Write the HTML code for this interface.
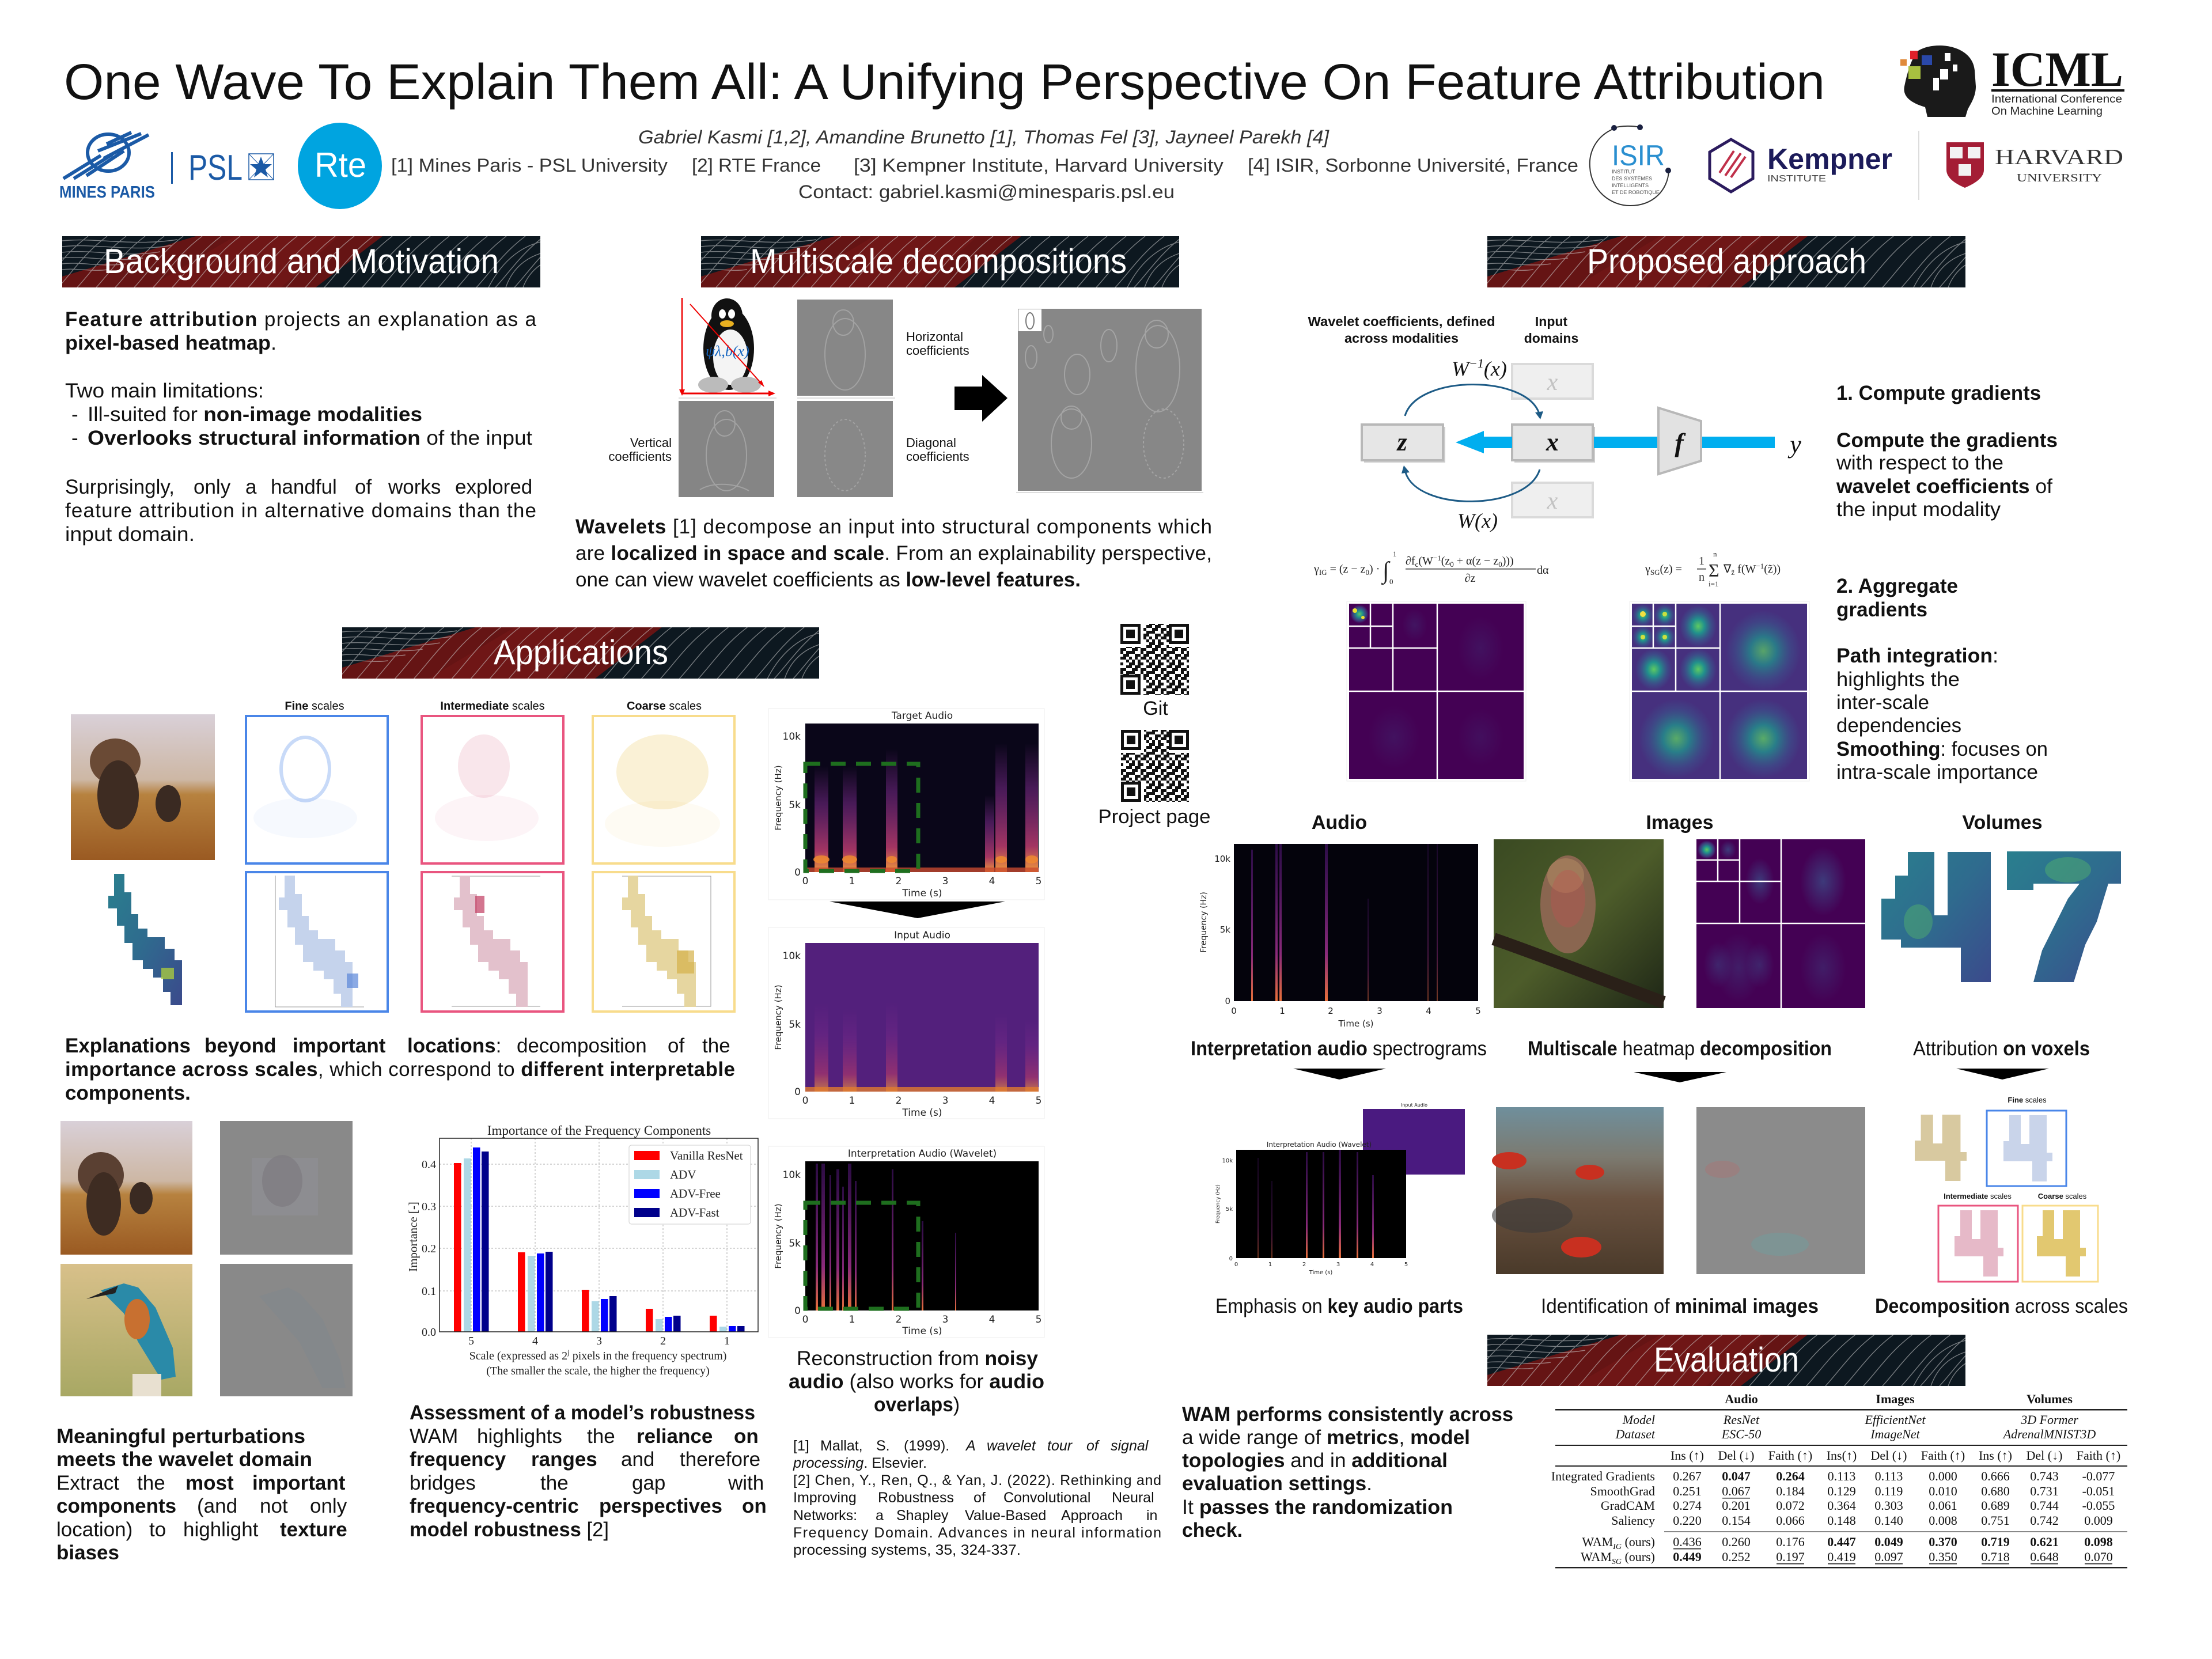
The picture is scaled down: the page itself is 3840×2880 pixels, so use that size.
<!DOCTYPE html>
<html><head><meta charset="utf-8">
<style>
html,body{margin:0;padding:0;background:#fff;}
svg{display:block}
.t{font-family:"Liberation Sans","DejaVu Sans",sans-serif;fill:#111}
.b{font-weight:bold}
.i{font-style:italic}
.h{font-family:"Liberation Sans","DejaVu Sans",sans-serif;font-size:60px;fill:#fff}
.tk{font-family:"DejaVu Sans",sans-serif;fill:#222}
.tb{font-family:"Liberation Serif",serif;font-size:22px;fill:#111}
</style></head><body>
<svg width="3840" height="2880" viewBox="0 0 3840 2880" xmlns="http://www.w3.org/2000/svg" xmlns:xlink="http://www.w3.org/1999/xlink" font-size="35">
<defs>
<symbol id="hdr" viewBox="0 0 830 89" preserveAspectRatio="none">
<rect width="830" height="89" fill="#0d1820"/>
<polygon points="232,0 556,0 440,89 0,89 0,70" fill="#651414"/>
<polygon points="300,0 480,0 380,89 150,89" fill="#7a1818" opacity="0.5"/>
<path d="M-40,89C-15,62 5,30 45,0M-7,89C18,62 38,30 78,0M26,89C51,62 71,30 111,0M59,89C84,62 104,30 144,0M92,89C117,62 137,30 177,0M125,89C150,62 170,30 210,0M158,89C183,62 203,30 243,0M191,89C216,62 236,30 276,0M224,89C249,62 269,30 309,0M257,89C282,62 302,30 342,0M290,89C315,62 335,30 375,0M323,89C348,62 368,30 408,0M356,89C381,62 401,30 441,0M389,89C414,62 434,30 474,0M422,89C447,62 467,30 507,0M455,89C480,62 500,30 540,0M488,89C513,62 533,30 573,0M521,89C546,62 566,30 606,0M554,89C579,62 599,30 639,0M587,89C612,62 632,30 672,0M620,89C645,62 665,30 705,0M653,89C678,62 698,30 738,0M686,89C711,62 731,30 771,0M719,89C744,62 764,30 804,0M752,89C777,62 797,30 837,0M785,89C810,62 830,30 870,0M0,8C60,2 120,18 200,6M0,18C60,12 120,28 190,16M0,28C50,22 110,38 170,27M0,38C40,33 90,46 140,38M0,48C30,44 70,54 110,48M0,58C25,55 50,62 80,58M830,10C790,20 760,50 740,89M830,30C800,40 780,60 770,89M830,50C815,60 805,75 800,89" fill="none" stroke="#cfcfcf" stroke-opacity="0.55" stroke-width="1.4"/>
</symbol>
<linearGradient id="burst" x1="0" y1="0" x2="0" y2="1">
<stop offset="0" stop-color="#7a2a8a" stop-opacity="0"/>
<stop offset="0.35" stop-color="#7a2a8a" stop-opacity="0.55"/>
<stop offset="0.8" stop-color="#b43a6a" stop-opacity="0.9"/>
<stop offset="1" stop-color="#f29a3a"/>
</linearGradient>
<linearGradient id="line" x1="0" y1="0" x2="0" y2="1">
<stop offset="0" stop-color="#4a1470" stop-opacity="0.6"/>
<stop offset="0.7" stop-color="#8a2a7a"/>
<stop offset="1" stop-color="#e8703a"/>
</linearGradient>
<radialGradient id="rg" cx="0.5" cy="0.5" r="0.5">
<stop offset="0" stop-color="#5ec962"/>
<stop offset="0.35" stop-color="#21918c"/>
<stop offset="0.75" stop-color="#3b528b" stop-opacity="0.7"/>
<stop offset="1" stop-color="#3b528b" stop-opacity="0"/>
</radialGradient>
<radialGradient id="rgf" cx="0.5" cy="0.5" r="0.5">
<stop offset="0" stop-color="#3b528b" stop-opacity="0.7"/>
<stop offset="1" stop-color="#3b528b" stop-opacity="0"/>
</radialGradient>
<linearGradient id="vox" x1="0" y1="0" x2="1" y2="1">
<stop offset="0" stop-color="#2a7f8e"/>
<stop offset="0.5" stop-color="#2f6b8e"/>
<stop offset="1" stop-color="#3b4a8c"/>
</linearGradient>
<linearGradient id="elep" x1="0" y1="0" x2="0" y2="1">
<stop offset="0" stop-color="#d9d0d8"/>
<stop offset="0.45" stop-color="#cdb7a4"/>
<stop offset="0.55" stop-color="#b7823f"/>
<stop offset="1" stop-color="#9a5a22"/>
</linearGradient>
<linearGradient id="king" x1="0" y1="0" x2="0" y2="1">
<stop offset="0" stop-color="#d8c08a"/>
<stop offset="1" stop-color="#a8a864"/>
</linearGradient>
<linearGradient id="owl" x1="0" y1="0" x2="1" y2="1">
<stop offset="0" stop-color="#3a4a22"/>
<stop offset="0.5" stop-color="#4d5c2a"/>
<stop offset="1" stop-color="#1e2616"/>
</linearGradient>
<linearGradient id="crab" x1="0" y1="0" x2="0" y2="1">
<stop offset="0" stop-color="#6f8f9c"/>
<stop offset="0.3" stop-color="#7c7a70"/>
<stop offset="0.55" stop-color="#6a5240"/>
<stop offset="1" stop-color="#4a3a2a"/>
</linearGradient>
<pattern id="qr" width="35" height="35" patternUnits="userSpaceOnUse">
<rect width="35" height="35" fill="#fff"/>
<g fill="#111">
<rect x="0" y="0" width="5" height="5"/><rect x="10" y="0" width="10" height="5"/><rect x="30" y="0" width="5" height="5"/>
<rect x="5" y="5" width="10" height="5"/><rect x="20" y="5" width="10" height="5"/>
<rect x="0" y="10" width="10" height="5"/><rect x="20" y="10" width="5" height="5"/><rect x="30" y="10" width="5" height="5"/>
<rect x="10" y="15" width="10" height="5"/><rect x="25" y="15" width="10" height="5"/>
<rect x="0" y="20" width="5" height="5"/><rect x="10" y="20" width="5" height="5"/><rect x="20" y="20" width="10" height="5"/>
<rect x="5" y="25" width="5" height="5"/><rect x="15" y="25" width="5" height="5"/><rect x="30" y="25" width="5" height="5"/>
<rect x="0" y="30" width="10" height="5"/><rect x="15" y="30" width="10" height="5"/>
</g>
</pattern>
<symbol id="fnd" viewBox="0 0 40 40"><rect width="40" height="40" fill="#fff"/><rect width="35" height="35" fill="#111"/><rect x="5" y="5" width="25" height="25" fill="#fff"/><rect x="10" y="10" width="15" height="15" fill="#111"/></symbol>
<symbol id="stair" viewBox="0 0 150 228" preserveAspectRatio="none">
<polygon points="10,0 28,0 28,32 40,32 40,70 52,70 52,95 68,95 68,110 98,110 98,130 115,130 115,150 128,150 128,228 108,228 108,205 95,205 95,180 78,180 78,165 60,165 60,150 42,150 42,120 28,120 28,90 15,90 15,60 0,60 0,38 10,38"/>
</symbol>
<symbol id="four" viewBox="0 0 85 115" preserveAspectRatio="none">
<polygon points="10,0 30,0 30,50 45,50 45,0 75,0 75,65 85,65 85,80 75,80 75,115 50,115 50,80 0,80 0,45 10,45"/>
</symbol>
</defs>

<rect width="3840" height="2880" fill="#fff"/>

<!-- TITLE -->
<text class="t" x="111" y="172" style="font-size:87px" textLength="3057" lengthAdjust="spacingAndGlyphs">One Wave To Explain Them All: A Unifying Perspective On Feature Attribution</text>

<!-- ICML logo -->
<path d="M3330,88 C3360,70 3424,78 3428,122 L3430,150 C3430,168 3421,180 3416,190 L3412,203 L3346,203 L3342,186 C3322,180 3302,170 3306,150 C3310,130 3318,100 3330,88 Z" fill="#1a1a1a"/>
<rect x="3376" y="92" width="10" height="14" fill="#fff"/><rect x="3390" y="112" width="8" height="12" fill="#fff"/><rect x="3368" y="120" width="14" height="18" fill="#fff"/><rect x="3356" y="135" width="10" height="22" fill="#fff"/>
<rect x="3316" y="88" width="13" height="15" fill="#e0202a"/>
<rect x="3336" y="96" width="18" height="17" fill="#2a48a8"/>
<rect x="3299" y="103" width="11" height="11" fill="#e08a3a"/>
<rect x="3313" y="115" width="21" height="22" fill="#a8c040"/>
<text x="3457" y="149" font-family="Liberation Serif,serif" font-weight="bold" font-size="86" fill="#111" textLength="229" lengthAdjust="spacingAndGlyphs">ICML</text>
<rect x="3457" y="155" width="231" height="4" fill="#111"/>
<text x="3457" y="178" font-family="Liberation Sans,sans-serif" font-size="19" fill="#222" textLength="227" lengthAdjust="spacingAndGlyphs">International Conference</text>
<text x="3457" y="199" font-family="Liberation Sans,sans-serif" font-size="19" fill="#222" textLength="193" lengthAdjust="spacingAndGlyphs">On Machine Learning</text>

<!-- Left logos -->
<g fill="none" stroke="#1b5aa6" stroke-width="6">
<ellipse cx="188" cy="265" rx="36" ry="32"/>
<path d="M110,310 L175,270 M128,310 L195,268 M150,305 L215,262 M170,262 L245,232 M180,275 L258,234 M185,250 L228,230"/>
</g>
<text x="103" y="343" font-family="Liberation Sans,sans-serif" font-weight="bold" font-size="29" fill="#1b5aa6" textLength="166" lengthAdjust="spacingAndGlyphs">MINES PARIS</text>
<rect x="297" y="264" width="3" height="55" fill="#1b5aa6"/>
<text x="327" y="312" font-family="Liberation Sans,sans-serif" font-size="62" fill="#1b5aa6" textLength="94" lengthAdjust="spacingAndGlyphs">PSL</text>
<rect x="432" y="267" width="43" height="45" fill="none" stroke="#1b5aa6" stroke-width="1.5"/>
<path d="M432,267L475,312M475,267L432,312" stroke="#1b5aa6" stroke-width="1"/>
<polygon points="453,272 458,285 472,285 461,294 465,308 453,299 441,308 445,294 434,285 448,285" fill="#1b5aa6"/>
<ellipse cx="590" cy="288" rx="73" ry="75" fill="#00a4e0"/>
<text x="591" y="307" text-anchor="middle" font-family="Liberation Sans,sans-serif" font-size="60" fill="#fff" textLength="90" lengthAdjust="spacingAndGlyphs">Rte</text>

<!-- Authors -->
<text class="t i" x="1108" y="249" style="font-size:32px;fill:#333" textLength="1199" lengthAdjust="spacingAndGlyphs">Gabriel Kasmi [1,2], Amandine Brunetto [1], Thomas Fel [3], Jayneel Parekh [4]</text>
<g class="t" style="font-size:32px;fill:#333">
<text x="679" y="298" textLength="480" lengthAdjust="spacingAndGlyphs">[1] Mines Paris - PSL University</text>
<text x="1201" y="298" textLength="224" lengthAdjust="spacingAndGlyphs">[2] RTE France</text>
<text x="1482" y="298" textLength="642" lengthAdjust="spacingAndGlyphs">[3] Kempner Institute, Harvard University</text>
<text x="2166" y="298" textLength="574" lengthAdjust="spacingAndGlyphs">[4] ISIR, Sorbonne Université, France</text>
<text x="1386" y="344" textLength="653" lengthAdjust="spacingAndGlyphs">Contact: gabriel.kasmi@minesparis.psl.eu</text>
</g>

<!-- Right logos -->
<path d="M2805,222 C2770,235 2758,265 2760,290 C2762,330 2795,357 2830,357 C2870,357 2895,330 2897,297" fill="none" stroke="#333" stroke-width="2"/>
<path d="M2802,222 C2815,218 2835,218 2847,221" fill="none" stroke="#333" stroke-width="2"/>
<circle cx="2802" cy="222" r="5" fill="#1a2040"/><circle cx="2847" cy="221" r="5" fill="#1a2040"/><circle cx="2896" cy="296" r="5" fill="#1a2040"/>
<text x="2798" y="287" font-family="Liberation Sans,sans-serif" font-size="50" fill="#2a8fd0" textLength="92" lengthAdjust="spacingAndGlyphs">ISIR</text>
<g font-family="Liberation Sans,sans-serif" font-size="9" fill="#444"><text x="2798" y="301">INSTITUT</text><text x="2798" y="313">DES SYSTÈMES</text><text x="2798" y="325">INTELLIGENTS</text><text x="2798" y="337">ET DE ROBOTIQUE</text></g>
<polygon points="3005,242 3043,264 3043,310 3005,333 2968,310 2968,264" fill="none" stroke="#2b1b5e" stroke-width="5"/>
<path d="M2985,300 L3010,262 M2995,305 L3022,266 M3005,308 L3030,272" stroke="#c0304a" stroke-width="4"/>
<text x="3068" y="293" font-family="Liberation Sans,sans-serif" font-weight="bold" font-size="50" fill="#1c1b5a" textLength="217" lengthAdjust="spacingAndGlyphs">Kempner</text>
<text x="3068" y="315" font-family="Liberation Sans,sans-serif" font-size="16" fill="#444" textLength="102" lengthAdjust="spacingAndGlyphs">INSTITUTE</text>
<rect x="3330" y="227" width="2" height="120" fill="#ddd"/>
<path d="M3379,247 L3444,247 L3444,295 C3444,310 3425,320 3411,326 C3397,320 3379,310 3379,295 Z" fill="#a41d35"/>
<rect x="3385" y="255" width="22" height="20" fill="#f2f2f2"/><rect x="3416" y="255" width="22" height="20" fill="#f2f2f2"/><rect x="3400" y="285" width="22" height="20" fill="#f2f2f2"/>
<text x="3463" y="285" font-family="Liberation Serif,serif" font-size="38" fill="#333" textLength="223" lengthAdjust="spacingAndGlyphs">HARVARD</text>
<text x="3501" y="315" font-family="Liberation Serif,serif" font-size="20" fill="#333" textLength="148" lengthAdjust="spacingAndGlyphs">UNIVERSITY</text>

<!-- Section headers -->
<use xlink:href="#hdr" href="#hdr" x="108" y="410" width="830" height="89"/>
<text class="h" x="180" y="474" textLength="686" lengthAdjust="spacingAndGlyphs">Background and Motivation</text>
<use xlink:href="#hdr" href="#hdr" x="1217" y="410" width="830" height="89"/>
<text class="h" x="1302" y="474" textLength="654" lengthAdjust="spacingAndGlyphs">Multiscale decompositions</text>
<use xlink:href="#hdr" href="#hdr" x="2582" y="410" width="830" height="89"/>
<text class="h" x="2755" y="474" textLength="485" lengthAdjust="spacingAndGlyphs">Proposed approach</text>
<use xlink:href="#hdr" href="#hdr" x="594" y="1089" width="828" height="89"/>
<text class="h" x="857" y="1153" textLength="303" lengthAdjust="spacingAndGlyphs">Applications</text>
<use xlink:href="#hdr" href="#hdr" x="2582" y="2317" width="830" height="89"/>
<text class="h" x="2871" y="2381" textLength="252" lengthAdjust="spacingAndGlyphs">Evaluation</text>

<!-- Background text -->
<text class="t" x="113" y="566" textLength="818" lengthAdjust="spacing"><tspan class="b">Feature attribution</tspan> projects an explanation as a</text>
<text class="t" x="113" y="607" textLength="367" lengthAdjust="spacingAndGlyphs"><tspan class="b">pixel-based heatmap</tspan>.</text>
<text class="t" x="113" y="690" textLength="345" lengthAdjust="spacingAndGlyphs">Two main limitations:</text>
<text class="t" x="124" y="731">-</text>
<text class="t" x="152" y="731" textLength="581" lengthAdjust="spacingAndGlyphs">Ill-suited for <tspan class="b">non-image modalities</tspan></text>
<text class="t" x="124" y="772">-</text>
<text class="t" x="152" y="772" textLength="772" lengthAdjust="spacingAndGlyphs"><tspan class="b">Overlooks structural information</tspan> of the input</text>
<text class="t" y="857"><tspan x="113">Surprisingly,</tspan><tspan x="336">only</tspan><tspan x="426">a</tspan><tspan x="470">handful</tspan><tspan x="616">of</tspan><tspan x="674">works</tspan><tspan x="790">explored</tspan></text>
<text class="t" x="113" y="898" textLength="818" lengthAdjust="spacing">feature attribution in alternative domains than the</text>
<text class="t" x="113" y="939" textLength="225" lengthAdjust="spacingAndGlyphs">input domain.</text>

<!-- Multiscale figure -->
<rect x="1182" y="517" width="165" height="170" fill="#fff"/>
<ellipse cx="1265" cy="605" rx="44" ry="72" fill="#111"/>
<ellipse cx="1262" cy="548" rx="27" ry="30" fill="#111"/>
<ellipse cx="1268" cy="620" rx="30" ry="48" fill="#f4f4f4"/>
<ellipse cx="1254" cy="545" rx="6" ry="8" fill="#fff"/><ellipse cx="1270" cy="545" rx="6" ry="8" fill="#fff"/>
<ellipse cx="1262" cy="562" rx="12" ry="6" fill="#e8b020"/>
<ellipse cx="1238" cy="668" rx="26" ry="14" fill="#bbb"/><ellipse cx="1295" cy="668" rx="26" ry="14" fill="#bbb"/>
<text x="1225" y="618" font-family="Liberation Serif,serif" font-style="italic" font-size="26" fill="#1565c0">ψλ,b(x)</text>
<path d="M1184,517 L1184,680" stroke="#e00" stroke-width="2.5"/><polygon points="1179,676 1189,676 1184,687" fill="#e00"/>
<path d="M1184,683 L1338,683" stroke="#e00" stroke-width="3"/><polygon points="1334,678 1346,683 1334,688" fill="#e00"/>
<path d="M1198,528 L1322,666" stroke="#e00" stroke-width="2"/><polygon points="1316,664 1327,672 1322,660" fill="#e00"/>
<rect x="1178" y="690" width="170" height="2" fill="#ddd"/><rect x="1384" y="690" width="170" height="2" fill="#ddd"/>
<rect x="1384" y="520" width="166" height="167" fill="#878787"/>
<rect x="1178" y="696" width="166" height="167" fill="#858585"/>
<rect x="1384" y="696" width="166" height="167" fill="#888"/>
<g fill="none" stroke="#a2a2a2" stroke-width="2">
<ellipse cx="1467" cy="615" rx="35" ry="62"/><ellipse cx="1464" cy="560" rx="18" ry="22"/>
<ellipse cx="1261" cy="790" rx="35" ry="62"/><ellipse cx="1258" cy="735" rx="18" ry="22"/><path d="M1215,850 C1240,835 1280,840 1300,852"/>
<ellipse cx="1467" cy="790" rx="35" ry="62" stroke-dasharray="4 4"/>
</g>
<g font-family="Liberation Sans,sans-serif" font-size="22" fill="#111">
<text x="1573" y="592">Horizontal</text><text x="1573" y="616">coefficients</text>
<text x="1166" y="776" text-anchor="end">Vertical</text><text x="1166" y="800" text-anchor="end">coefficients</text>
<text x="1573" y="776">Diagonal</text><text x="1573" y="800">coefficients</text>
</g>
<polygon points="1657,671 1705,671 1705,651 1749,691 1705,732 1705,712 1657,712" fill="#000"/>
<rect x="1767" y="536" width="319" height="316" fill="#878787"/>
<rect x="1764" y="854" width="325" height="2" fill="#ddd"/>
<rect x="1768" y="537" width="40" height="38" fill="#fff"/>
<ellipse cx="1788" cy="557" rx="7" ry="14" fill="none" stroke="#777" stroke-width="2"/>
<g fill="none" stroke="#a4a4a4" stroke-width="2">
<ellipse cx="2010" cy="640" rx="38" ry="75"/><ellipse cx="2008" cy="580" rx="20" ry="24"/>
<ellipse cx="1870" cy="650" rx="22" ry="35"/><ellipse cx="1925" cy="600" rx="14" ry="28"/>
<ellipse cx="1860" cy="770" rx="35" ry="60"/><ellipse cx="1860" cy="725" rx="18" ry="20"/>
<ellipse cx="2020" cy="770" rx="35" ry="60" stroke-dasharray="4 4"/>
<ellipse cx="1790" cy="620" rx="10" ry="20"/><ellipse cx="1820" cy="580" rx="8" ry="15"/>
</g>

<!-- Wavelets text -->
<text class="t" x="999" y="926" textLength="1105" lengthAdjust="spacing"><tspan class="b">Wavelets</tspan> [1] decompose an input into structural components which</text>
<text class="t" x="999" y="972" textLength="1105" lengthAdjust="spacing">are <tspan class="b">localized in space and scale</tspan>. From an explainability perspective,</text>
<text class="t" x="999" y="1018" textLength="877" lengthAdjust="spacingAndGlyphs">one can view wavelet coefficients as <tspan class="b">low-level features.</tspan></text>

<!-- Proposed approach diagram -->
<g font-family="Liberation Sans,sans-serif" font-weight="bold" font-size="23" fill="#111" text-anchor="middle">
<text x="2433" y="566" textLength="325" lengthAdjust="spacingAndGlyphs">Wavelet coefficients, defined</text>
<text x="2433" y="595" textLength="198" lengthAdjust="spacingAndGlyphs">across modalities</text>
<text x="2693" y="566">Input</text>
<text x="2693" y="595">domains</text>
</g>
<rect x="2625" y="632" width="140" height="60" fill="#efefef" stroke="#dadada" stroke-width="4"/>
<rect x="2625" y="838" width="140" height="60" fill="#efefef" stroke="#dadada" stroke-width="4"/>
<text x="2695" y="677" text-anchor="middle" font-family="Liberation Serif,serif" font-style="italic" font-size="42" fill="#c2c2c2">x</text>
<text x="2695" y="883" text-anchor="middle" font-family="Liberation Serif,serif" font-style="italic" font-size="42" fill="#c2c2c2">x</text>
<rect x="2368" y="741" width="141" height="62" fill="#ccc"/>
<rect x="2364" y="737" width="141" height="62" fill="#e6e6e6" stroke="#b8b8b8" stroke-width="4"/>
<rect x="2629" y="741" width="140" height="62" fill="#ccc"/>
<rect x="2625" y="737" width="140" height="62" fill="#e6e6e6" stroke="#b8b8b8" stroke-width="4"/>
<text x="2434" y="782" text-anchor="middle" font-family="Liberation Serif,serif" font-style="italic" font-weight="bold" font-size="44" fill="#111">z</text>
<text x="2695" y="782" text-anchor="middle" font-family="Liberation Serif,serif" font-style="italic" font-weight="bold" font-size="44" fill="#111">x</text>
<polygon points="2527,768 2576,748 2576,758 2625,758 2625,778 2576,778 2576,787" fill="#00aeef"/>
<rect x="2767" y="758" width="112" height="20" fill="#00aeef"/>
<rect x="2953" y="758" width="128" height="20" fill="#00aeef"/>
<polygon points="2879,708 2953,731 2953,800 2879,823" fill="#e2e2e2" stroke="#b8b8b8" stroke-width="4"/>
<text x="2915" y="784" text-anchor="middle" font-family="Liberation Serif,serif" font-style="italic" font-weight="bold" font-size="46" fill="#111">f</text>
<text x="3117" y="786" text-anchor="middle" font-family="Liberation Serif,serif" font-style="italic" font-size="44" fill="#111">y</text>
<path d="M2439,722 C2460,650 2650,650 2672,718" fill="none" stroke="#1d5b86" stroke-width="3"/>
<polygon points="2665,716 2679,714 2674,728" fill="#1d5b86"/>
<path d="M2673,815 C2650,888 2460,888 2440,820" fill="none" stroke="#1d5b86" stroke-width="3"/>
<polygon points="2433,822 2447,820 2437,808" fill="#1d5b86"/>
<text x="2520" y="652" font-family="Liberation Serif,serif" font-style="italic" font-size="36" fill="#111">W<tspan font-size="22" dy="-14">−1</tspan><tspan dy="14">(x)</tspan></text>
<text x="2530" y="916" font-family="Liberation Serif,serif" font-style="italic" font-size="36" fill="#111">W(x)</text>

<!-- formulas -->
<g font-family="Liberation Serif,serif" font-size="20" fill="#222">
<text x="2281" y="994">γ<tspan font-size="13" dy="4">IG</tspan><tspan dy="-4"> = (z − z</tspan><tspan font-size="13" dy="4">0</tspan><tspan dy="-4">) ·</tspan></text>
<text x="2400" y="1004" font-size="42">∫</text>
<text x="2418" y="966" font-size="13">1</text><text x="2412" y="1014" font-size="13">0</text>
<text x="2440" y="980">∂f<tspan font-size="13" dy="4">c</tspan><tspan dy="-4">(W</tspan><tspan font-size="13" dy="-7">−1</tspan><tspan dy="7">(z</tspan><tspan font-size="13" dy="4">0</tspan><tspan dy="-4"> + α(z − z</tspan><tspan font-size="13" dy="4">0</tspan><tspan dy="-4">)))</tspan></text>
<rect x="2440" y="987" width="226" height="1.5" fill="#222"/>
<text x="2552" y="1010" text-anchor="middle">∂z</text>
<text x="2668" y="996">dα</text>
<text x="2856" y="994">γ<tspan font-size="13" dy="4">SG</tspan><tspan dy="-4">(z) =</tspan></text>
<text x="2954" y="980" text-anchor="middle">1</text><rect x="2946" y="987" width="16" height="1.5" fill="#222"/><text x="2954" y="1008" text-anchor="middle">n</text>
<text x="2966" y="1001" font-size="32">Σ</text><text x="2974" y="966" font-size="13">n</text><text x="2966" y="1018" font-size="13">i=1</text>
<text x="2992" y="994">∇<tspan font-size="13" dy="4">z̃</tspan><tspan dy="-4"> f(W</tspan><tspan font-size="13" dy="-7">−1</tspan><tspan dy="7">(z̃))</tspan></text>
</g>

<!-- heatmaps proposed -->
<rect x="2338" y="1044" width="311" height="312" fill="none" stroke="#eee" stroke-width="1"/>
<rect x="2342" y="1048" width="303" height="304" fill="#440154"/>
<ellipse cx="2360" cy="1066" rx="16" ry="16" fill="url(#rg)"/>
<circle cx="2352" cy="1060" r="4" fill="#e8e030"/><circle cx="2366" cy="1072" r="3" fill="#e8e030"/>
<ellipse cx="2570" cy="1125" rx="40" ry="55" fill="url(#rgf)" opacity="0.3"/>
<ellipse cx="2420" cy="1280" rx="45" ry="55" fill="url(#rgf)" opacity="0.3"/>
<ellipse cx="2570" cy="1280" rx="40" ry="50" fill="url(#rgf)" opacity="0.25"/>
<ellipse cx="2456" cy="1085" rx="22" ry="28" fill="url(#rgf)" opacity="0.35"/>
<g stroke="#fff" stroke-width="2.5">
<path d="M2495,1048V1352M2342,1200H2645M2418,1048V1200M2342,1125H2495M2379,1048V1125M2342,1087H2418"/>
</g>
<rect x="2829" y="1044" width="312" height="312" fill="none" stroke="#eee" stroke-width="1"/>
<rect x="2833" y="1048" width="304" height="304" fill="#46307e"/>
<g>
<ellipse cx="2852" cy="1068" rx="18" ry="19" fill="url(#rg)"/><ellipse cx="2890" cy="1068" rx="18" ry="19" fill="url(#rg)"/>
<ellipse cx="2852" cy="1106" rx="18" ry="19" fill="url(#rg)"/><ellipse cx="2890" cy="1106" rx="18" ry="19" fill="url(#rg)"/>
<ellipse cx="2948" cy="1087" rx="32" ry="36" fill="url(#rg)"/>
<ellipse cx="2871" cy="1162" rx="32" ry="36" fill="url(#rg)"/><ellipse cx="2948" cy="1162" rx="32" ry="36" fill="url(#rg)"/>
<ellipse cx="3061" cy="1130" rx="65" ry="70" fill="url(#rg)" opacity="0.75"/>
<ellipse cx="2910" cy="1282" rx="65" ry="68" fill="url(#rg)" opacity="0.8"/>
<ellipse cx="3061" cy="1282" rx="65" ry="68" fill="url(#rg)" opacity="0.8"/>
<circle cx="2852" cy="1066" r="5" fill="#f0e040"/><circle cx="2890" cy="1066" r="4" fill="#c8e040"/><circle cx="2852" cy="1106" r="4" fill="#d0e040"/><circle cx="2890" cy="1106" r="4" fill="#c8e040"/>
</g>
<g stroke="#fff" stroke-width="2.5">
<path d="M2986,1048V1352M2833,1200H3137M2909,1048V1200M2833,1125H2986M2870,1048V1125M2833,1087H2909"/>
</g>

<!-- proposed right text -->
<text class="t b" x="3188" y="694" textLength="355" lengthAdjust="spacingAndGlyphs">1. Compute gradients</text>
<text class="t b" x="3188" y="776" textLength="384" lengthAdjust="spacingAndGlyphs">Compute the gradients</text>
<text class="t" x="3188" y="815" textLength="290" lengthAdjust="spacingAndGlyphs">with respect to the</text>
<text class="t" x="3188" y="856" textLength="375" lengthAdjust="spacingAndGlyphs"><tspan class="b">wavelet coefficients</tspan> of</text>
<text class="t" x="3188" y="896" textLength="285" lengthAdjust="spacingAndGlyphs">the input modality</text>
<text class="t b" x="3188" y="1029" textLength="211" lengthAdjust="spacingAndGlyphs">2. Aggregate</text>
<text class="t b" x="3188" y="1070" textLength="158" lengthAdjust="spacingAndGlyphs">gradients</text>
<text class="t" x="3188" y="1150" textLength="281" lengthAdjust="spacingAndGlyphs"><tspan class="b">Path integration</tspan>:</text>
<text class="t" x="3188" y="1191" textLength="214" lengthAdjust="spacingAndGlyphs">highlights the</text>
<text class="t" x="3188" y="1231" textLength="161" lengthAdjust="spacingAndGlyphs">inter-scale</text>
<text class="t" x="3188" y="1271" textLength="217" lengthAdjust="spacingAndGlyphs">dependencies</text>
<text class="t" x="3188" y="1312" textLength="367" lengthAdjust="spacingAndGlyphs"><tspan class="b">Smoothing</tspan>: focuses on</text>
<text class="t" x="3188" y="1352" textLength="350" lengthAdjust="spacingAndGlyphs">intra-scale importance</text>

<!-- Applications left -->
<rect x="123" y="1240" width="250" height="253" fill="url(#elep)"/>
<ellipse cx="200" cy="1322" rx="44" ry="40" fill="#6a4a35"/>
<ellipse cx="205" cy="1380" rx="36" ry="60" fill="#3e2c22"/>
<ellipse cx="292" cy="1395" rx="22" ry="32" fill="#3a2a22"/>
<g font-family="Liberation Sans,sans-serif" font-size="20" fill="#111" text-anchor="middle">
<text x="546" y="1232"><tspan font-weight="bold">Fine</tspan> scales</text>
<text x="855" y="1232"><tspan font-weight="bold">Intermediate</tspan> scales</text>
<text x="1153" y="1232"><tspan font-weight="bold">Coarse</tspan> scales</text>
</g>
<rect x="427" y="1243" width="246" height="256" fill="#fff" stroke="#4a86e8" stroke-width="4"/>
<rect x="732" y="1243" width="246" height="256" fill="#fff" stroke="#e9557f" stroke-width="4"/>
<rect x="1029" y="1243" width="246" height="256" fill="#fff" stroke="#f8dc8c" stroke-width="4"/>
<ellipse cx="530" cy="1335" rx="42" ry="55" fill="none" stroke="#4a86e8" stroke-opacity="0.3" stroke-width="6"/>
<ellipse cx="530" cy="1420" rx="90" ry="35" fill="#4a86e8" opacity="0.05"/>
<ellipse cx="840" cy="1330" rx="45" ry="55" fill="#d0305a" opacity="0.12"/>
<ellipse cx="845" cy="1420" rx="90" ry="40" fill="#d0305a" opacity="0.05"/>
<ellipse cx="1150" cy="1340" rx="80" ry="65" fill="#e8b830" opacity="0.2"/>
<ellipse cx="1150" cy="1430" rx="100" ry="40" fill="#e8b830" opacity="0.06"/>
<rect x="427" y="1514" width="246" height="242" fill="#fff" stroke="#4a86e8" stroke-width="4"/>
<rect x="732" y="1514" width="246" height="242" fill="#fff" stroke="#e9557f" stroke-width="4"/>
<rect x="1029" y="1514" width="246" height="242" fill="#fff" stroke="#f8dc8c" stroke-width="4"/>
<path d="M478,1520V1748H632M784,1521H938M784,1747H938M1080,1521H1234V1747H1080" fill="none" stroke="#999" stroke-width="1"/>
<use xlink:href="#stair" href="#stair" x="188" y="1517" width="150" height="228" fill="url(#vox)"/>
<rect x="280" y="1680" width="22" height="20" fill="#a8c840" opacity="0.8"/>
<use xlink:href="#stair" href="#stair" x="484" y="1520" width="150" height="228" fill="#c5d3ec"/>
<rect x="602" y="1690" width="20" height="25" fill="#5a86d8" opacity="0.7"/>
<use xlink:href="#stair" href="#stair" x="788" y="1520" width="150" height="228" fill="#e3c1cc"/>
<rect x="825" y="1555" width="16" height="30" fill="#c03a60" opacity="0.7"/>
<use xlink:href="#stair" href="#stair" x="1080" y="1520" width="150" height="228" fill="#e6d6a0"/>
<rect x="1175" y="1650" width="30" height="40" fill="#d4b048" opacity="0.7"/>
<text class="t" y="1827"><tspan x="113" class="b">Explanations</tspan><tspan x="355" class="b">beyond</tspan><tspan x="508" class="b">important</tspan><tspan x="707" class="b">locations</tspan>:<tspan x="897">decomposition</tspan><tspan x="1159">of</tspan><tspan x="1219">the</tspan></text>
<text class="t" x="113" y="1868" textLength="1163" lengthAdjust="spacing"><tspan class="b">importance across scales</tspan>, which correspond to <tspan class="b">different interpretable</tspan></text>
<text class="t b" x="113" y="1909">components.</text>

<!-- QR codes -->
<rect x="1945" y="1083" width="119" height="123" fill="url(#qr)"/>
<use xlink:href="#fnd" href="#fnd" x="1945" y="1083" width="40" height="40"/>
<use xlink:href="#fnd" href="#fnd" x="2029" y="1083" width="40" height="40"/>
<use xlink:href="#fnd" href="#fnd" x="1945" y="1171" width="40" height="40"/>
<rect x="2029" y="1206" width="40" height="6" fill="#fff"/>
<text class="t" x="2006" y="1241" text-anchor="middle" style="font-size:34px">Git</text>
<rect x="1946" y="1267" width="118" height="125" fill="url(#qr)"/>
<use xlink:href="#fnd" href="#fnd" x="1946" y="1267" width="40" height="40"/>
<use xlink:href="#fnd" href="#fnd" x="2029" y="1267" width="40" height="40"/>
<use xlink:href="#fnd" href="#fnd" x="1946" y="1357" width="40" height="40"/>
<rect x="1946" y="1392" width="125" height="8" fill="#fff"/>
<text class="t" x="2004" y="1429" text-anchor="middle" style="font-size:34px" textLength="195" lengthAdjust="spacingAndGlyphs">Project page</text>

<!-- Middle audio panels -->
<rect x="1334" y="1230" width="479" height="332" fill="none" stroke="#eee"/>
<rect x="1334" y="1610" width="479" height="332" fill="none" stroke="#eee"/>
<rect x="1334" y="1990" width="479" height="332" fill="none" stroke="#eee"/>
<!-- target -->
<rect x="1398" y="1256" width="405" height="258" fill="#0a0619"/>
<g fill="url(#burst)">
<rect x="1414" y="1330" width="24" height="184"/><rect x="1463" y="1330" width="24" height="184"/><rect x="1538" y="1300" width="20" height="214"/>
<rect x="1710" y="1380" width="16" height="134"/><rect x="1728" y="1290" width="20" height="224"/><rect x="1780" y="1290" width="22" height="224"/>
</g>
<g fill="#f08a30" opacity="0.85"><ellipse cx="1426" cy="1492" rx="14" ry="7"/><ellipse cx="1475" cy="1492" rx="13" ry="7"/><ellipse cx="1548" cy="1492" rx="9" ry="6"/><ellipse cx="1738" cy="1492" rx="10" ry="6"/><ellipse cx="1791" cy="1492" rx="11" ry="7"/></g>
<rect x="1398" y="1506" width="405" height="8" fill="#c84a30" opacity="0.8"/>
<rect x="1398" y="1326" width="196" height="186" fill="none" stroke="#1e6e1e" stroke-width="7" stroke-dasharray="26 18"/>
<polygon points="1440,1565 1745,1565 1593,1594" fill="#000"/>
<!-- input -->
<rect x="1398" y="1637" width="405" height="258" fill="#53207c"/>
<g fill="url(#burst)" opacity="0.7">
<rect x="1414" y="1740" width="24" height="155"/><rect x="1463" y="1750" width="24" height="145"/><rect x="1538" y="1740" width="20" height="155"/>
<rect x="1728" y="1760" width="20" height="135"/><rect x="1780" y="1770" width="22" height="125"/>
</g>
<rect x="1398" y="1887" width="405" height="8" fill="#e07a30" opacity="0.8"/>
<!-- interp -->
<rect x="1398" y="2016" width="405" height="259" fill="#000"/>
<g fill="url(#line)">
<rect x="1416" y="2020" width="4" height="255"/><rect x="1426" y="2020" width="6" height="255"/><rect x="1440" y="2040" width="3" height="235"/><rect x="1452" y="2030" width="5" height="245"/><rect x="1462" y="2060" width="3" height="215"/><rect x="1472" y="2020" width="6" height="255"/><rect x="1484" y="2050" width="3" height="225"/>
<rect x="1548" y="2030" width="3" height="245"/><rect x="1600" y="2120" width="3" height="155"/><rect x="1658" y="2140" width="2" height="135"/>
</g>
<rect x="1398" y="2088" width="196" height="184" fill="none" stroke="#1e6e1e" stroke-width="7" stroke-dasharray="26 18"/>
<g class="tk" font-size="17">
<text x="1601" y="1248" text-anchor="middle">Target Audio</text>
<text x="1601" y="1629" text-anchor="middle">Input Audio</text>
<text x="1601" y="2008" text-anchor="middle">Interpretation Audio (Wavelet)</text>
<g text-anchor="end">
<text x="1390" y="1284">10k</text><text x="1390" y="1403">5k</text><text x="1390" y="1520">0</text>
<text x="1390" y="1665">10k</text><text x="1390" y="1784">5k</text><text x="1390" y="1901">0</text>
<text x="1390" y="2045">10k</text><text x="1390" y="2164">5k</text><text x="1390" y="2281">0</text>
</g>
<g text-anchor="middle">
<text x="1398" y="1535">0</text><text x="1479" y="1535">1</text><text x="1560" y="1535">2</text><text x="1641" y="1535">3</text><text x="1722" y="1535">4</text><text x="1803" y="1535">5</text>
<text x="1398" y="1916">0</text><text x="1479" y="1916">1</text><text x="1560" y="1916">2</text><text x="1641" y="1916">3</text><text x="1722" y="1916">4</text><text x="1803" y="1916">5</text>
<text x="1398" y="2296">0</text><text x="1479" y="2296">1</text><text x="1560" y="2296">2</text><text x="1641" y="2296">3</text><text x="1722" y="2296">4</text><text x="1803" y="2296">5</text>
<text x="1601" y="1556">Time (s)</text><text x="1601" y="1937">Time (s)</text><text x="1601" y="2316">Time (s)</text>
</g>
<text transform="translate(1356,1385) rotate(-90)" text-anchor="middle" font-size="15">Frequency (Hz)</text>
<text transform="translate(1356,1766) rotate(-90)" text-anchor="middle" font-size="15">Frequency (Hz)</text>
<text transform="translate(1356,2146) rotate(-90)" text-anchor="middle" font-size="15">Frequency (Hz)</text>
</g>
<text class="t" x="1383" y="2370" textLength="419" lengthAdjust="spacingAndGlyphs">Reconstruction from <tspan class="b">noisy</tspan></text>
<text class="t" x="1369" y="2410" textLength="444" lengthAdjust="spacingAndGlyphs"><tspan class="b">audio</tspan>  (also works for <tspan class="b">audio</tspan></text>
<text class="t" x="1517" y="2450" textLength="149" lengthAdjust="spacingAndGlyphs"><tspan class="b">overlaps</tspan>)</text>

<!-- Applications right -->
<g class="t b" text-anchor="middle" style="font-size:34px">
<text x="2325" y="1439">Audio</text><text x="2916" y="1439">Images</text><text x="3476" y="1439">Volumes</text>
</g>
<rect x="2142" y="1465" width="424" height="273" fill="#04030c"/>
<g fill="url(#line)">
<rect x="2172" y="1475" width="3" height="263"/><rect x="2214" y="1465" width="4" height="273"/><rect x="2221" y="1465" width="4" height="273"/><rect x="2300" y="1465" width="5" height="273"/><rect x="2374" y="1560" width="2" height="178" opacity="0.5"/><rect x="2478" y="1465" width="2" height="273" opacity="0.5"/><rect x="2494" y="1465" width="2" height="273" opacity="0.5"/>
</g>
<g class="tk" font-size="15">
<g text-anchor="end"><text x="2136" y="1496">10k</text><text x="2136" y="1619">5k</text><text x="2136" y="1743">0</text></g>
<g text-anchor="middle"><text x="2142" y="1760">0</text><text x="2226" y="1760">1</text><text x="2310" y="1760">2</text><text x="2395" y="1760">3</text><text x="2480" y="1760">4</text><text x="2566" y="1760">5</text><text x="2354" y="1782">Time (s)</text></g>
<text transform="translate(2094,1601) rotate(-90)" text-anchor="middle" font-size="14">Frequency (Hz)</text>
</g>
<rect x="2593" y="1457" width="295" height="293" fill="url(#owl)"/>
<path d="M2593,1630 C2680,1660 2780,1700 2888,1740" stroke="#2a2018" stroke-width="22" fill="none"/>
<ellipse cx="2722" cy="1570" rx="48" ry="85" fill="#8a6650"/>
<ellipse cx="2718" cy="1520" rx="32" ry="30" fill="#a07a5a"/>
<ellipse cx="2722" cy="1560" rx="30" ry="50" fill="#c05050" opacity="0.35"/>
<rect x="2945" y="1457" width="293" height="293" fill="#440154"/>
<ellipse cx="2963" cy="1475" rx="16" ry="16" fill="url(#rg)"/>
<ellipse cx="3000" cy="1475" rx="14" ry="16" fill="url(#rgf)"/>
<ellipse cx="3055" cy="1530" rx="25" ry="40" fill="url(#rgf)"/>
<ellipse cx="3165" cy="1530" rx="40" ry="60" fill="url(#rgf)"/>
<ellipse cx="2982" cy="1675" rx="25" ry="40" fill="url(#rgf)" opacity="0.6"/>
<ellipse cx="3055" cy="1675" rx="25" ry="40" fill="url(#rgf)" opacity="0.6"/>
<ellipse cx="3018" cy="1680" rx="40" ry="60" fill="url(#rgf)" opacity="0.5"/>
<ellipse cx="3165" cy="1680" rx="40" ry="60" fill="url(#rgf)" opacity="0.5"/>
<g stroke="#fff" stroke-width="2.5"><path d="M3092,1457V1750M2945,1603H3238M3020,1457V1603M2945,1530H3092M2982,1457V1530M2945,1493H3020"/></g>
<polygon points="3312,1479 3358,1479 3358,1589 3381,1589 3381,1479 3456,1479 3456,1705 3404,1705 3404,1645 3300,1645 3300,1631 3266,1631 3266,1560 3290,1560 3290,1520 3312,1520" fill="url(#vox)"/>
<polygon points="3484,1478 3682,1478 3682,1534 3660,1534 3640,1600 3620,1640 3600,1705 3530,1705 3545,1650 3570,1600 3590,1560 3610,1534 3530,1534 3530,1545 3484,1545" fill="url(#vox)"/>
<ellipse cx="3330" cy="1600" rx="25" ry="30" fill="#5ec962" opacity="0.35"/>
<ellipse cx="3590" cy="1510" rx="40" ry="22" fill="#5ec962" opacity="0.35"/>
<text class="t" x="2067" y="1832" textLength="514" lengthAdjust="spacingAndGlyphs"><tspan class="b">Interpretation audio</tspan> spectrograms</text>
<text class="t" x="2652" y="1832" textLength="528" lengthAdjust="spacingAndGlyphs"><tspan class="b">Multiscale</tspan> heatmap <tspan class="b">decomposition</tspan></text>
<text class="t" x="3321" y="1832" textLength="307" lengthAdjust="spacingAndGlyphs">Attribution <tspan class="b">on voxels</tspan></text>
<polygon points="2245,1855 2406,1855 2325,1874" fill="#000"/>
<polygon points="2836,1861 2997,1861 2916,1879" fill="#000"/>
<polygon points="3396,1855 3557,1855 3476,1874" fill="#000"/>
<!-- bottom audio -->
<rect x="2366" y="1925" width="177" height="114" fill="#4a1a80"/>
<g fill="#f0a030"><rect x="2376" y="2021" width="4" height="14"/><rect x="2392" y="2021" width="4" height="14"/><rect x="2410" y="2021" width="4" height="14"/><rect x="2428" y="2021" width="4" height="14"/></g>
<text x="2455" y="1921" text-anchor="middle" font-family="DejaVu Sans,sans-serif" font-size="8" fill="#222">Input Audio</text>
<rect x="2110" y="1980" width="256" height="232" fill="#fff"/>
<rect x="2366" y="2039" width="20" height="40" fill="#fff"/>
<rect x="2146" y="1996" width="295" height="188" fill="#000"/>
<g fill="url(#line)"><rect x="2183" y="2010" width="2" height="174" opacity="0.5"/><rect x="2207" y="2050" width="2" height="134" opacity="0.5"/><rect x="2267" y="2000" width="3" height="184"/><rect x="2296" y="2000" width="3" height="184"/><rect x="2324" y="1996" width="4" height="188"/><rect x="2355" y="2000" width="3" height="184"/><rect x="2382" y="2040" width="3" height="144"/></g>
<g font-family="DejaVu Sans,sans-serif" font-size="10" fill="#222">
<text x="2290" y="1991" text-anchor="middle" font-size="12">Interpretation Audio (Wavelet)</text>
<g text-anchor="end"><text x="2140" y="2018">10k</text><text x="2140" y="2102">5k</text><text x="2140" y="2188">0</text></g>
<g text-anchor="middle"><text x="2146" y="2198">0</text><text x="2205" y="2198">1</text><text x="2264" y="2198">2</text><text x="2323" y="2198">3</text><text x="2382" y="2198">4</text><text x="2441" y="2198">5</text><text x="2293" y="2212">Time (s)</text></g>
<text transform="translate(2117,2090) rotate(-90)" text-anchor="middle" font-size="9">Frequency (Hz)</text>
</g>
<rect x="2597" y="1922" width="291" height="290" fill="url(#crab)"/>
<ellipse cx="2660" cy="2110" rx="70" ry="30" fill="#3a3a3a" opacity="0.6"/>
<ellipse cx="2620" cy="2015" rx="30" ry="15" fill="#c83020"/><ellipse cx="2760" cy="2035" rx="25" ry="13" fill="#c83020"/><ellipse cx="2745" cy="2165" rx="35" ry="18" fill="#c83020"/>
<rect x="2945" y="1922" width="293" height="290" fill="#8b8b8b"/>
<ellipse cx="3090" cy="2160" rx="50" ry="20" fill="#6fa0a0" opacity="0.45"/><ellipse cx="2990" cy="2030" rx="30" ry="15" fill="#b07070" opacity="0.4"/>
<g font-family="Liberation Sans,sans-serif" font-size="13" fill="#111" text-anchor="middle">
<text x="3519" y="1914"><tspan font-weight="bold">Fine</tspan> scales</text>
<text x="3433" y="2081"><tspan font-weight="bold">Intermediate</tspan> scales</text>
<text x="3580" y="2081"><tspan font-weight="bold">Coarse</tspan> scales</text>
</g>
<use xlink:href="#four" href="#four" x="3324" y="1935" width="90" height="115" fill="#d8c9a0"/>
<rect x="3449" y="1928" width="138" height="131" fill="#fff" stroke="#4a86e8" stroke-width="3"/>
<use xlink:href="#four" href="#four" x="3478" y="1936" width="85" height="115" fill="#c9d4ea"/>
<rect x="3365" y="2093" width="138" height="132" fill="#fff" stroke="#e9557f" stroke-width="3"/>
<use xlink:href="#four" href="#four" x="3393" y="2101" width="85" height="115" fill="#e6b9c8"/>
<rect x="3511" y="2093" width="131" height="132" fill="#fff" stroke="#f8dc8c" stroke-width="3"/>
<use xlink:href="#four" href="#four" x="3536" y="2101" width="85" height="115" fill="#e2c870"/>
<text class="t" x="2110" y="2279" textLength="430" lengthAdjust="spacingAndGlyphs">Emphasis on <tspan class="b">key audio parts</tspan></text>
<text class="t" x="2675" y="2279" textLength="482" lengthAdjust="spacingAndGlyphs">Identification of <tspan class="b">minimal images</tspan></text>
<text class="t" x="3255" y="2279" textLength="439" lengthAdjust="spacingAndGlyphs"><tspan class="b">Decomposition</tspan> across scales</text>

<!-- Bottom-left images -->
<rect x="105" y="1946" width="229" height="232" fill="url(#elep)"/>
<ellipse cx="175" cy="2040" rx="40" ry="40" fill="#5a4032"/><ellipse cx="180" cy="2090" rx="30" ry="55" fill="#3e2c22"/><ellipse cx="245" cy="2080" rx="20" ry="28" fill="#3a2a22"/>
<rect x="382" y="1946" width="230" height="232" fill="#898989"/>
<rect x="437" y="2010" width="115" height="100" fill="#8f8e94" opacity="0.8"/>
<ellipse cx="490" cy="2050" rx="35" ry="45" fill="#7d7a80" opacity="0.7"/>
<rect x="105" y="2194" width="229" height="230" fill="url(#king)"/>
<path d="M175,2240 L215,2228 L240,2235 L270,2270 L300,2340 L305,2390 L280,2395 L240,2330 L215,2280 Z" fill="#2a8aa8"/>
<ellipse cx="238" cy="2290" rx="22" ry="35" fill="#c87030"/>
<path d="M150,2255 L205,2232 L200,2245 Z" fill="#222"/>
<rect x="230" y="2385" width="50" height="39" fill="#e8e0d0"/>
<rect x="382" y="2194" width="230" height="230" fill="#898989"/>
<path d="M450,2250 L500,2235 L520,2245 L560,2290 L590,2360 L600,2410 L560,2410 L520,2330 Z" fill="#83888c" opacity="0.8"/>

<!-- Bar chart -->
<g font-family="Liberation Serif,serif" fill="#222">
<text x="1040" y="1970" text-anchor="middle" font-size="23">Importance of the Frequency Components</text>
<g stroke="#aaa" stroke-width="1" stroke-dasharray="3 3"><path d="M763,2021H1316M763,2094H1316M763,2167H1316M763,2241H1316M818,1976V2312M929,1976V2312M1040,1976V2312M1151,1976V2312M1262,1976V2312"/></g>
<g fill="#ff0000"><rect x="788" y="2019" width="12.5" height="293"/><rect x="899" y="2174" width="12.5" height="138"/><rect x="1010" y="2239" width="12.5" height="73"/><rect x="1121" y="2272" width="12.5" height="40"/><rect x="1232" y="2284" width="12.5" height="28"/></g>
<g fill="#add8e6"><rect x="805" y="2011" width="12.5" height="301"/><rect x="916" y="2180" width="12.5" height="132"/><rect x="1027" y="2259" width="12.5" height="53"/><rect x="1138" y="2290" width="12.5" height="22"/><rect x="1249" y="2303" width="12.5" height="9"/></g>
<g fill="#0000ff"><rect x="821" y="1992" width="12.5" height="320"/><rect x="932" y="2176" width="12.5" height="136"/><rect x="1043" y="2255" width="12.5" height="57"/><rect x="1154" y="2286" width="12.5" height="26"/><rect x="1265" y="2302" width="12.5" height="10"/></g>
<g fill="#00008b"><rect x="836" y="1999" width="12.5" height="313"/><rect x="947" y="2173" width="12.5" height="139"/><rect x="1058" y="2250" width="12.5" height="62"/><rect x="1169" y="2284" width="12.5" height="28"/><rect x="1280" y="2302" width="12.5" height="10"/></g>
<rect x="763" y="1976" width="553" height="336" fill="none" stroke="#222" stroke-width="1.5"/>
<g font-size="20" text-anchor="end"><text x="757" y="2028">0.4</text><text x="757" y="2101">0.3</text><text x="757" y="2174">0.2</text><text x="757" y="2248">0.1</text><text x="757" y="2319">0.0</text></g>
<g font-size="20" text-anchor="middle"><text x="818" y="2334">5</text><text x="929" y="2334">4</text><text x="1040" y="2334">3</text><text x="1151" y="2334">2</text><text x="1262" y="2334">1</text>
<text x="1038" y="2360">Scale (expressed as 2<tspan font-size="13" dy="-8">j</tspan><tspan dy="8"> pixels in the frequency spectrum)</tspan></text>
<text x="1038" y="2386">(The smaller the scale, the higher the frequency)</text></g>
<text transform="translate(724,2147) rotate(-90)" text-anchor="middle" font-size="21">Importance [-]</text>
<rect x="1092" y="1988" width="211" height="137" rx="4" fill="#fff" stroke="#ccc"/>
<rect x="1101" y="1998" width="44" height="16" fill="#ff0000"/><rect x="1101" y="2031" width="44" height="16" fill="#add8e6"/><rect x="1101" y="2064" width="44" height="16" fill="#0000ff"/><rect x="1101" y="2097" width="44" height="16" fill="#00008b"/>
<g font-size="21"><text x="1163" y="2013">Vanilla ResNet</text><text x="1163" y="2046">ADV</text><text x="1163" y="2079">ADV-Free</text><text x="1163" y="2112">ADV-Fast</text></g>
</g>

<!-- Bottom-left texts -->
<text class="t b" x="98" y="2505" textLength="432" lengthAdjust="spacingAndGlyphs">Meaningful perturbations</text>
<text class="t b" x="98" y="2545" textLength="444" lengthAdjust="spacingAndGlyphs">meets the wavelet domain</text>
<text class="t" y="2586"><tspan x="98">Extract</tspan><tspan x="238">the</tspan><tspan x="322" class="b">most</tspan><tspan x="438" class="b">important</tspan></text>
<text class="t" y="2626"><tspan x="98" class="b">components</tspan><tspan x="342">(and</tspan><tspan x="451">not</tspan><tspan x="538">only</tspan></text>
<text class="t" y="2667"><tspan x="98">location)</tspan><tspan x="259">to</tspan><tspan x="318">highlight</tspan><tspan x="486" class="b">texture</tspan></text>
<text class="t b" x="98" y="2707">biases</text>

<text class="t b" x="711" y="2464" textLength="600" lengthAdjust="spacingAndGlyphs">Assessment of a model’s robustness</text>
<text class="t" y="2505"><tspan x="711">WAM</tspan><tspan x="828">highlights</tspan><tspan x="1019">the</tspan><tspan x="1105" class="b">reliance</tspan><tspan x="1274" class="b">on</tspan></text>
<text class="t" y="2545"><tspan x="711" class="b">frequency</tspan><tspan x="922" class="b">ranges</tspan><tspan x="1078">and</tspan><tspan x="1180">therefore</tspan></text>
<text class="t" y="2586"><tspan x="711">bridges</tspan><tspan x="938">the</tspan><tspan x="1097">gap</tspan><tspan x="1264">with</tspan></text>
<text class="t b" y="2626"><tspan x="711">frequency-centric</tspan><tspan x="1040">perspectives</tspan><tspan x="1288">on</tspan></text>
<text class="t" x="711" y="2667" textLength="346" lengthAdjust="spacingAndGlyphs"><tspan class="b">model robustness</tspan> [2]</text>

<!-- References -->
<g class="t" style="font-size:25px">
<text y="2518"><tspan x="1377">[1]</tspan><tspan x="1424">Mallat,</tspan><tspan x="1521">S.</tspan><tspan x="1569">(1999).</tspan><tspan x="1677" class="i">A</tspan><tspan x="1713" class="i">wavelet</tspan><tspan x="1818" class="i">tour</tspan><tspan x="1886" class="i">of</tspan><tspan x="1928" class="i">signal</tspan></text>
<text x="1377" y="2548" textLength="232" lengthAdjust="spacingAndGlyphs"><tspan class="i">processing</tspan>. Elsevier.</text>
<text x="1377" y="2578" textLength="639" lengthAdjust="spacing">[2] Chen, Y., Ren, Q., &amp; Yan, J. (2022). Rethinking and</text>
<text y="2608"><tspan x="1377">Improving</tspan><tspan x="1524">Robustness</tspan><tspan x="1690">of</tspan><tspan x="1742">Convolutional</tspan><tspan x="1930">Neural</tspan></text>
<text y="2639"><tspan x="1377">Networks:</tspan><tspan x="1520">a</tspan><tspan x="1556">Shapley</tspan><tspan x="1675">Value-Based</tspan><tspan x="1842">Approach</tspan><tspan x="1990">in</tspan></text>
<text x="1377" y="2669" textLength="639" lengthAdjust="spacing">Frequency Domain. Advances in neural information</text>
<text x="1377" y="2699" textLength="395" lengthAdjust="spacingAndGlyphs">processing systems, 35, 324-337.</text>
</g>

<!-- WAM text -->
<text class="t b" x="2052" y="2467" textLength="575" lengthAdjust="spacingAndGlyphs">WAM performs consistently across</text>
<text class="t" x="2052" y="2507" textLength="500" lengthAdjust="spacingAndGlyphs">a wide range of <tspan class="b">metrics</tspan>, <tspan class="b">model</tspan></text>
<text class="t" x="2052" y="2547" textLength="461" lengthAdjust="spacingAndGlyphs"><tspan class="b">topologies</tspan> and in <tspan class="b">additional</tspan></text>
<text class="t" x="2052" y="2587" textLength="330" lengthAdjust="spacingAndGlyphs"><tspan class="b">evaluation settings</tspan>.</text>
<text class="t" x="2052" y="2628" textLength="470" lengthAdjust="spacingAndGlyphs">It  <tspan class="b">passes the randomization</tspan></text>
<text class="t b" x="2052" y="2668" textLength="105" lengthAdjust="spacingAndGlyphs">check.</text>

<!-- Table -->
<g class="tb">
<g font-weight="bold" text-anchor="middle"><text x="3023" y="2436">Audio</text><text x="3290" y="2436">Images</text><text x="3558" y="2436">Volumes</text></g>
<rect x="2700" y="2446" width="993" height="2.5" fill="#222"/>
<g font-style="italic">
<text x="2873" y="2472" text-anchor="end">Model</text><text x="2873" y="2497" text-anchor="end">Dataset</text>
<g text-anchor="middle"><text x="3023" y="2472">ResNet</text><text x="3023" y="2497">ESC-50</text><text x="3290" y="2472">EfficientNet</text><text x="3290" y="2497">ImageNet</text><text x="3558" y="2472">3D Former</text><text x="3558" y="2497">AdrenalMNIST3D</text></g>
</g>
<rect x="2700" y="2508" width="993" height="2" fill="#222"/>
<g text-anchor="middle">
<text x="2929" y="2534">Ins (↑)</text><text x="3014" y="2534">Del (↓)</text><text x="3108" y="2534">Faith (↑)</text>
<text x="3197" y="2534">Ins(↑)</text><text x="3279" y="2534">Del (↓)</text><text x="3373" y="2534">Faith (↑)</text>
<text x="3464" y="2534">Ins (↑)</text><text x="3549" y="2534">Del (↓)</text><text x="3643" y="2534">Faith (↑)</text>
</g>
<rect x="2700" y="2544" width="993" height="2" fill="#222"/>
<g text-anchor="end"><text x="2873" y="2570">Integrated Gradients</text><text x="2873" y="2596">SmoothGrad</text><text x="2873" y="2621">GradCAM</text><text x="2873" y="2647">Saliency</text>
<text x="2873" y="2684">WAM<tspan font-size="14" font-style="italic" dy="5">IG</tspan><tspan dy="-5"> (ours)</tspan></text>
<text x="2873" y="2710">WAM<tspan font-size="14" font-style="italic" dy="5">SG</tspan><tspan dy="-5"> (ours)</tspan></text></g>
<g text-anchor="middle">
<text x="2929" y="2570">0.267</text><text x="3014" y="2570" font-weight="bold">0.047</text><text x="3108" y="2570" font-weight="bold">0.264</text><text x="3197" y="2570">0.113</text><text x="3279" y="2570">0.113</text><text x="3373" y="2570">0.000</text><text x="3464" y="2570">0.666</text><text x="3549" y="2570">0.743</text><text x="3643" y="2570">-0.077</text>
<text x="2929" y="2596">0.251</text><text x="3014" y="2596">0.067</text><text x="3108" y="2596">0.184</text><text x="3197" y="2596">0.129</text><text x="3279" y="2596">0.119</text><text x="3373" y="2596">0.010</text><text x="3464" y="2596">0.680</text><text x="3549" y="2596">0.731</text><text x="3643" y="2596">-0.051</text>
<text x="2929" y="2621">0.274</text><text x="3014" y="2621">0.201</text><text x="3108" y="2621">0.072</text><text x="3197" y="2621">0.364</text><text x="3279" y="2621">0.303</text><text x="3373" y="2621">0.061</text><text x="3464" y="2621">0.689</text><text x="3549" y="2621">0.744</text><text x="3643" y="2621">-0.055</text>
<text x="2929" y="2647">0.220</text><text x="3014" y="2647">0.154</text><text x="3108" y="2647">0.066</text><text x="3197" y="2647">0.148</text><text x="3279" y="2647">0.140</text><text x="3373" y="2647">0.008</text><text x="3464" y="2647">0.751</text><text x="3549" y="2647">0.742</text><text x="3643" y="2647">0.009</text>
<text x="2929" y="2684">0.436</text><text x="3014" y="2684">0.260</text><text x="3108" y="2684">0.176</text><g font-weight="bold"><text x="3197" y="2684">0.447</text><text x="3279" y="2684">0.049</text><text x="3373" y="2684">0.370</text><text x="3464" y="2684">0.719</text><text x="3549" y="2684">0.621</text><text x="3643" y="2684">0.098</text></g>
<text x="2929" y="2710" font-weight="bold">0.449</text><text x="3014" y="2710">0.252</text><text x="3108" y="2710">0.197</text><text x="3197" y="2710">0.419</text><text x="3279" y="2710">0.097</text><text x="3373" y="2710">0.350</text><text x="3464" y="2710">0.718</text><text x="3549" y="2710">0.648</text><text x="3643" y="2710">0.070</text>
</g>
<g fill="#222">
<rect x="2990" y="2600" width="48" height="1.5"/>
<rect x="2905" y="2688" width="48" height="1.5"/>
<rect x="3084" y="2714" width="48" height="1.5"/><rect x="3173" y="2714" width="48" height="1.5"/><rect x="3255" y="2714" width="48" height="1.5"/><rect x="3349" y="2714" width="48" height="1.5"/><rect x="3440" y="2714" width="48" height="1.5"/><rect x="3525" y="2714" width="48" height="1.5"/><rect x="3619" y="2714" width="48" height="1.5"/>
</g>
<rect x="2889" y="2658" width="804" height="2" fill="#888"/>
<rect x="2700" y="2720" width="993" height="2.5" fill="#222"/>
</g>
</svg>
</body></html>
